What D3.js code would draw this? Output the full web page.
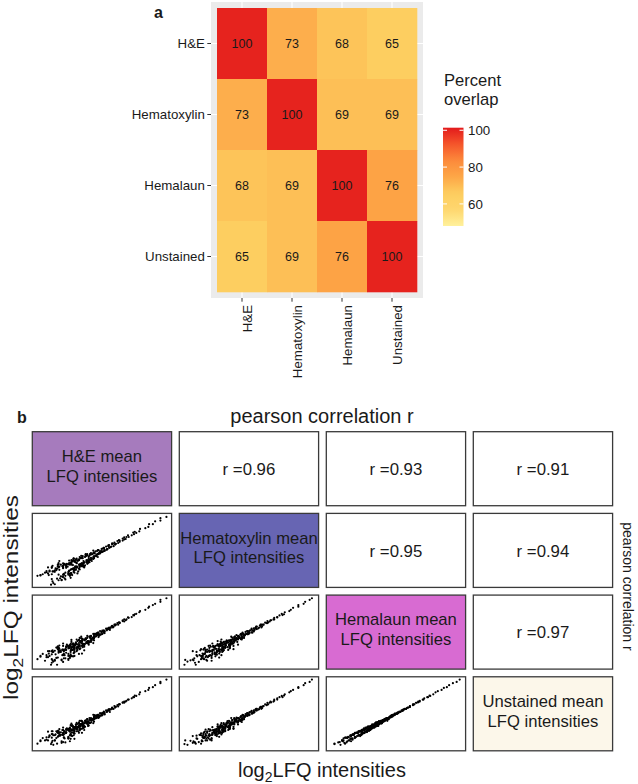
<!DOCTYPE html>
<html>
<head>
<meta charset="utf-8">
<script src="https://cdn.jsdelivr.net/npm/d3@7/dist/d3.min.js"></script>
<style>
  body { margin: 0; background: #fff; }
  text { font-family: "Liberation Sans", Arial, Helvetica, sans-serif; }
</style>
</head>
<body>
<div id="figure"></div>
<script>
// ---- data ----
const stains = ["H&E", "Hematoxylin", "Hemalaun", "Unstained"];

// percent overlap, rows and columns in stains order
const overlap = [
  [100, 73, 68, 65],
  [73, 100, 69, 69],
  [68, 69, 100, 76],
  [65, 69, 76, 100]
];
const fillLimits = [48, 101.4];
const legendTicks = [60, 80, 100];

// pearson r, upper triangle (row, col)
const pearsonR = [
  [null, 0.96, 0.93, 0.91],
  [null, null, 0.95, 0.94],
  [null, null, null, 0.97],
  [null, null, null, null]
];

// mean log2 LFQ intensities per protein (same protein order in every array)
const lfqHE = [
  20.8, 19.2, 20.7, 20.2, 22.0, 20.3, 21.1, 22.1, 20.0, 21.8,
  21.3, 22.2, 20.8, 23.2, 21.7, 22.3, 20.9, 22.2, 21.6, 22.9,
  22.5, 21.6, 23.3, 22.2, 22.9, 21.3, 22.6, 23.2, 22.2, 23.6,
  22.1, 23.0, 21.9, 23.2, 24.2, 22.6, 23.7, 22.9, 22.2, 23.6,
  23.5, 22.6, 23.3, 24.0, 22.9, 22.6, 23.5, 23.8, 23.3, 23.0,
  24.0, 23.3, 23.8, 22.6, 23.7, 24.0, 23.1, 24.7, 23.4, 23.9,
  23.2, 24.1, 24.5, 23.7, 23.5, 24.4, 24.1, 23.2, 24.4, 24.0,
  24.3, 23.6, 24.8, 23.9, 25.1, 24.2, 24.7, 23.8, 24.7, 24.3,
  25.0, 24.1, 24.7, 23.9, 24.9, 25.3, 24.5, 24.9, 24.3, 25.6,
  24.5, 25.3, 24.3, 25.0, 25.5, 24.8, 25.7, 24.7, 25.3, 25.1,
  25.5, 24.7, 25.9, 25.2, 25.8, 24.6, 25.6, 26.0, 25.2, 25.6,
  25.2, 25.8, 26.3, 25.4, 25.9, 25.2, 26.3, 25.7, 26.3, 25.9,
  26.3, 25.8, 26.6, 26.1, 26.6, 25.9, 26.5, 26.9, 26.3, 26.7,
  26.3, 26.7, 27.0, 26.5, 26.4, 27.0, 27.3, 26.8, 27.1, 26.7,
  27.4, 26.9, 27.3, 26.8, 27.5, 27.7, 27.3, 27.1, 27.7, 27.6,
  27.4, 28.0, 27.6, 28.0, 27.6, 28.1, 28.4, 27.9, 28.3, 28.2,
  28.5, 28.2, 28.6, 28.3, 28.9, 28.8, 28.7, 29.1, 28.7, 29.1,
  29.2, 29.0, 29.5, 29.4, 29.7, 29.7, 29.6, 30.1, 30.3, 30.1,
  30.5, 30.3, 30.6, 30.9, 30.8, 31.3, 31.6, 31.5, 31.9, 31.7,
  32.3, 32.4, 33.1, 33.5, 33.6, 34.1, 34.4, 35.1, 35.1, 35.9,
  21.1, 19.2, 20.6, 18.8, 21.4, 20.4, 22.5, 19.8, 21.6, 20.7,
  20.0, 22.0, 21.1, 23.1, 20.7, 21.9, 22.9, 20.2, 22.4, 21.4,
  22.9, 20.7, 22.5, 23.7, 21.6, 22.3, 23.6, 21.5, 23.0, 20.8,
  24.1, 22.3, 23.6, 21.6, 23.2, 24.7, 22.2, 23.7, 21.7, 24.3,
  22.7, 24.4, 22.4, 23.9, 24.4, 23.4, 22.8, 25.0, 23.5, 24.5,
  24.9, 23.0, 24.4, 23.7, 25.4, 23.6, 24.9, 23.3, 24.8, 25.5,
  24.0, 25.5, 24.8, 26.0, 24.6, 25.6, 24.4, 26.2, 25.7, 25.2,
  26.2, 25.4, 26.2, 25.8, 26.8, 26.2, 26.9, 26.2, 27.1, 27.7,
  20.4, 23.1, 21.5, 23.3, 21.7, 23.7, 23.3, 25.0, 23.6, 24.8,
  20.9, 19.5, 22.2, 21.2, 23.4, 21.5, 23.1, 22.3, 24.5, 23.6
];
const lfqHematoxylin = [
  19.6, 21.1, 20.2, 21.6, 19.9, 21.2, 22.4, 20.8, 21.9, 20.4,
  22.4, 21.3, 22.1, 20.5, 22.5, 21.3, 22.1, 23.1, 21.3, 22.0,
  21.8, 23.1, 21.7, 23.5, 21.5, 22.7, 23.0, 21.6, 22.9, 22.5,
  23.4, 22.3, 23.8, 22.5, 22.1, 23.5, 22.8, 23.9, 23.3, 22.0,
  22.8, 23.7, 22.7, 23.4, 23.9, 23.4, 22.7, 23.1, 23.8, 24.2,
  23.0, 24.0, 23.4, 23.8, 22.9, 24.2, 23.8, 23.4, 24.6, 23.2,
  24.2, 23.2, 24.0, 24.5, 23.7, 23.4, 24.8, 24.3, 23.6, 24.2,
  23.8, 24.8, 23.8, 24.4, 23.6, 24.8, 24.2, 24.7, 23.6, 24.9,
  24.3, 24.8, 24.0, 25.1, 24.7, 24.4, 25.4, 24.2, 25.0, 24.7,
  25.4, 24.6, 25.1, 24.4, 24.9, 25.4, 24.4, 25.4, 24.9, 25.7,
  24.8, 25.5, 25.1, 25.9, 24.9, 25.5, 25.8, 25.2, 26.2, 25.4,
  25.9, 25.1, 25.6, 26.1, 25.5, 26.3, 25.7, 26.1, 25.4, 26.3,
  25.9, 26.4, 25.9, 26.4, 26.2, 26.7, 26.0, 26.5, 26.8, 26.3,
  26.8, 26.3, 26.8, 27.1, 26.6, 26.7, 27.2, 26.5, 26.9, 27.2,
  27.0, 27.4, 26.9, 27.4, 27.1, 27.4, 27.7, 27.2, 27.4, 27.8,
  27.8, 27.5, 28.0, 27.7, 28.0, 27.7, 28.1, 28.3, 28.0, 28.4,
  28.2, 28.6, 28.3, 28.7, 28.4, 29.0, 28.9, 28.8, 29.1, 28.9,
  29.0, 29.3, 29.2, 29.7, 29.5, 29.8, 29.9, 29.8, 30.1, 30.3,
  30.2, 30.6, 30.7, 30.7, 31.1, 31.1, 31.4, 31.8, 31.7, 32.0,
  32.1, 32.7, 32.9, 33.2, 33.9, 33.9, 34.6, 34.8, 35.4, 35.7,
  18.9, 21.2, 18.8, 21.0, 20.3, 22.1, 20.1, 21.8, 19.9, 21.4,
  22.2, 20.0, 22.0, 21.1, 23.0, 20.9, 21.7, 23.1, 20.4, 22.8,
  21.3, 23.2, 21.0, 22.4, 23.9, 21.5, 22.9, 23.8, 22.2, 23.5,
  21.6, 23.7, 22.6, 24.2, 21.6, 23.4, 24.1, 22.5, 24.7, 22.8,
  24.0, 22.6, 24.0, 22.5, 23.8, 24.8, 23.3, 23.1, 24.8, 23.7,
  23.5, 24.8, 23.2, 24.8, 24.0, 25.3, 23.3, 24.9, 24.0, 24.5,
  25.3, 24.2, 25.9, 24.7, 26.0, 24.5, 25.7, 25.2, 25.0, 26.4,
  25.4, 26.4, 25.7, 26.5, 25.7, 26.7, 26.4, 27.3, 26.6, 27.2,
  22.3, 21.0, 23.4, 21.4, 23.3, 21.8, 24.4, 23.4, 25.3, 23.7,
  19.2, 21.4, 20.7, 22.9, 21.2, 23.4, 21.5, 23.9, 23.6, 25.3
];
const lfqHemalaun = [
  20.3, 21.2, 19.7, 21.1, 20.5, 22.0, 20.2, 21.6, 21.1, 22.4,
  20.9, 21.7, 22.8, 21.3, 22.6, 20.8, 22.4, 21.7, 23.0, 21.4,
  23.0, 22.2, 21.4, 23.0, 21.9, 23.5, 22.2, 22.8, 23.9, 22.1,
  23.0, 23.7, 22.4, 21.8, 23.4, 23.0, 22.3, 23.6, 22.8, 23.9,
  23.7, 22.9, 23.6, 22.6, 23.3, 23.8, 22.9, 24.0, 22.9, 23.6,
  23.2, 22.9, 24.2, 23.6, 23.2, 23.5, 24.1, 23.9, 22.9, 24.3,
  23.9, 24.3, 23.3, 23.6, 24.5, 24.1, 23.7, 24.4, 23.9, 23.5,
  24.6, 24.2, 24.0, 24.8, 24.4, 23.8, 25.0, 24.1, 24.5, 24.1,
  24.0, 25.1, 24.9, 24.4, 24.2, 24.9, 25.1, 24.4, 25.3, 24.2,
  25.0, 24.8, 25.4, 25.3, 24.7, 25.6, 24.8, 25.2, 24.6, 25.5,
  25.1, 25.7, 24.9, 25.5, 25.2, 25.8, 24.9, 25.6, 25.8, 24.9,
  25.7, 26.0, 25.3, 25.9, 26.3, 25.6, 25.8, 26.2, 26.1, 25.6,
  26.2, 26.0, 26.4, 25.9, 26.7, 26.4, 26.2, 26.1, 26.6, 26.8,
  26.7, 26.9, 26.5, 26.9, 26.9, 26.5, 26.8, 27.2, 26.8, 27.1,
  26.9, 27.2, 27.4, 27.1, 27.6, 27.1, 27.3, 27.6, 27.6, 27.2,
  27.7, 27.8, 27.5, 28.0, 27.8, 28.2, 27.9, 28.2, 28.3, 28.1,
  28.4, 28.3, 28.7, 28.5, 28.7, 28.5, 28.9, 29.0, 28.8, 29.2,
  29.2, 29.2, 29.2, 29.6, 29.7, 29.6, 29.8, 30.1, 30.0, 30.3,
  30.3, 30.5, 30.5, 30.9, 31.0, 31.1, 31.5, 31.6, 31.9, 31.8,
  32.3, 32.6, 32.9, 33.4, 33.7, 34.1, 34.4, 34.9, 35.4, 35.8,
  20.4, 21.4, 19.2, 20.6, 19.2, 21.4, 20.8, 20.2, 22.6, 20.6,
  21.6, 20.3, 22.7, 20.9, 21.8, 22.8, 20.4, 22.6, 21.6, 23.5,
  20.7, 22.6, 23.1, 21.4, 23.5, 22.0, 21.3, 23.1, 24.0, 22.4,
  22.9, 21.6, 23.9, 23.5, 22.4, 22.0, 24.5, 22.9, 24.0, 21.9,
  24.2, 23.7, 22.8, 24.5, 23.1, 24.3, 23.9, 22.8, 23.6, 24.7,
  24.3, 23.4, 25.1, 23.3, 24.8, 24.5, 24.0, 25.4, 23.6, 25.1,
  25.5, 24.5, 24.2, 25.3, 26.2, 24.7, 25.9, 24.6, 26.2, 25.5,
  26.0, 26.4, 25.6, 25.9, 26.6, 25.9, 26.9, 26.9, 26.7, 27.5,
  22.6, 21.4, 21.0, 23.2, 23.2, 22.4, 24.9, 23.7, 23.1, 25.5,
  20.0, 21.9, 19.9, 21.8, 21.3, 23.8, 23.4, 22.6, 25.0, 23.9
];
const lfqUnstained = [
  20.6, 20.7, 20.2, 20.7, 20.1, 21.5, 20.7, 22.1, 21.5, 21.9,
  21.3, 22.1, 22.3, 21.1, 22.1, 21.4, 22.0, 22.2, 22.5, 21.2,
  22.6, 21.8, 21.9, 22.6, 21.6, 23.0, 22.7, 22.3, 23.3, 22.6,
  23.3, 23.2, 22.7, 22.2, 23.0, 22.6, 22.5, 23.2, 22.4, 23.5,
  23.4, 22.7, 23.3, 23.0, 23.6, 23.5, 22.7, 23.6, 23.3, 23.2,
  23.5, 23.2, 23.9, 23.3, 23.1, 23.8, 23.9, 23.6, 23.3, 24.2,
  23.6, 24.1, 23.5, 24.0, 24.3, 23.8, 23.6, 24.5, 24.2, 23.8,
  24.4, 23.9, 24.3, 24.6, 24.1, 24.0, 24.7, 24.0, 24.6, 24.4,
  24.2, 24.8, 24.7, 24.7, 24.2, 25.1, 24.8, 24.6, 25.0, 24.4,
  24.7, 25.1, 25.2, 25.0, 24.6, 25.3, 25.0, 24.9, 24.9, 25.6,
  25.4, 25.5, 25.2, 25.2, 25.1, 25.6, 25.2, 25.8, 25.5, 25.2,
  25.4, 25.8, 25.4, 26.0, 26.0, 25.7, 26.0, 25.9, 26.3, 25.8,
  26.3, 25.9, 26.3, 26.1, 26.5, 26.3, 26.2, 26.3, 26.7, 26.6,
  26.6, 26.8, 26.6, 26.8, 27.0, 26.6, 26.9, 27.1, 26.9, 27.0,
  27.0, 27.1, 27.3, 27.0, 27.5, 27.2, 27.4, 27.5, 27.7, 27.4,
  27.6, 27.8, 27.6, 27.9, 27.9, 28.1, 27.8, 28.2, 28.2, 28.2,
  28.4, 28.4, 28.6, 28.5, 28.6, 28.6, 28.9, 28.9, 28.8, 29.1,
  29.1, 29.3, 29.2, 29.5, 29.7, 29.7, 29.7, 30.1, 30.1, 30.2,
  30.4, 30.4, 30.6, 30.9, 30.9, 31.2, 31.5, 31.5, 31.8, 31.9,
  32.2, 32.7, 33.0, 33.3, 33.8, 34.0, 34.5, 35.0, 35.3, 35.9,
  20.7, 20.5, 19.8, 19.9, 19.9, 21.8, 20.2, 20.7, 21.8, 21.4,
  20.9, 20.5, 22.0, 20.5, 22.3, 22.1, 21.2, 22.9, 21.2, 22.8,
  21.4, 23.0, 22.5, 21.1, 22.9, 21.5, 22.0, 22.6, 23.4, 23.0,
  23.4, 22.2, 23.3, 23.0, 22.0, 22.6, 23.9, 22.4, 23.5, 22.6,
  23.7, 23.2, 22.9, 24.0, 23.5, 24.5, 23.4, 23.3, 24.1, 24.2,
  23.8, 23.6, 24.7, 23.9, 25.0, 24.1, 23.8, 24.9, 24.1, 25.5,
  25.1, 24.3, 24.7, 25.6, 25.6, 25.2, 25.6, 25.0, 26.3, 25.3,
  26.1, 26.0, 25.8, 25.8, 26.4, 26.0, 26.7, 27.1, 26.9, 27.3,
  22.0, 22.0, 21.6, 22.7, 22.6, 23.0, 24.3, 24.2, 23.7, 25.0,
  19.6, 21.3, 20.3, 22.2, 21.8, 23.1, 22.9, 23.1, 24.3, 23.6
];
const lfq = [lfqHE, lfqHematoxylin, lfqHemalaun, lfqUnstained];

// ---- setup ----
const W = 638, H = 784;
const svg = d3
  .select("#figure")
  .append("svg")
  .attr("width", W)
  .attr("height", H);

const dark = "#1a1a1a";

// colour scale for the heatmap (YlOrRd-like ramp)
const fillColors = ["#fff19c", "#fed66e", "#fdcd5f", "#fda747", "#fc8a3b", "#f5552b", "#e31a1c"];
const fillDomain = d3.range(fillColors.length).map(
  (i) => fillLimits[0] + (i / (fillColors.length - 1)) * (fillLimits[1] - fillLimits[0])
);
const fill = d3.scaleLinear().domain(fillDomain).range(fillColors).clamp(true);

// =============== panel a: heatmap ===============
const x = d3.scaleBand().domain(stains).range([217, 417]);
const y = d3.scaleBand().domain(stains).range([8, 292]);

const heat = svg.append("g").attr("class", "heatmap");

// grey ggplot panel
heat
  .append("rect")
  .attr("x", 211)
  .attr("y", 2)
  .attr("width", 212)
  .attr("height", 296)
  .attr("fill", "#ebebeb");

// major grid lines (only the bits in the margin show)
heat
  .selectAll(".vgrid")
  .data(stains)
  .enter()
  .append("line")
  .attr("x1", (d) => x(d) + x.bandwidth() / 2)
  .attr("x2", (d) => x(d) + x.bandwidth() / 2)
  .attr("y1", 2)
  .attr("y2", 298)
  .attr("stroke", "#fff")
  .attr("stroke-width", 1.1);
heat
  .selectAll(".hgrid")
  .data(stains)
  .enter()
  .append("line")
  .attr("y1", (d) => y(d) + y.bandwidth() / 2)
  .attr("y2", (d) => y(d) + y.bandwidth() / 2)
  .attr("x1", 211)
  .attr("x2", 423)
  .attr("stroke", "#fff")
  .attr("stroke-width", 1.1);

const cells = [];
stains.forEach((rowName, i) =>
  stains.forEach((colName, j) => cells.push({ row: rowName, col: colName, value: overlap[i][j] }))
);

heat
  .selectAll(".tile")
  .data(cells)
  .enter()
  .append("rect")
  .attr("class", "tile")
  .attr("x", (d) => x(d.col))
  .attr("y", (d) => y(d.row))
  .attr("width", x.bandwidth() + 0.3)
  .attr("height", y.bandwidth() + 0.3)
  .attr("fill", (d) => fill(d.value));

heat
  .selectAll(".cell-label")
  .data(cells)
  .enter()
  .append("text")
  .attr("x", (d) => x(d.col) + x.bandwidth() / 2)
  .attr("y", (d) => y(d.row) + y.bandwidth() / 2)
  .attr("dy", "0.36em")
  .attr("text-anchor", "middle")
  .attr("fill", dark)
  .style("font-size", "12.5px")
  .text((d) => d.value);

// y axis
heat
  .append("g")
  .attr("transform", "translate(211,0)")
  .call(d3.axisLeft(y).tickSize(3.7).tickPadding(2.4))
  .call((g) => g.select(".domain").remove())
  .call((g) => g.selectAll(".tick line").attr("stroke", "#333").attr("stroke-width", 1))
  .call((g) =>
    g.selectAll(".tick text").attr("fill", dark).style("font-size", "13.3px")
  );

// x axis, labels turned 90 degrees
heat
  .append("g")
  .attr("transform", "translate(0,298)")
  .call(d3.axisBottom(x).tickSize(3.7))
  .call((g) => g.select(".domain").remove())
  .call((g) => g.selectAll(".tick line").attr("stroke", "#333").attr("stroke-width", 1))
  .call((g) =>
    g
      .selectAll(".tick text")
      .attr("transform", "rotate(-90)")
      .attr("text-anchor", "end")
      .attr("x", -7)
      .attr("y", 9.6)
      .attr("dy", 0)
      .attr("fill", dark)
      .style("font-size", "13.3px")
  );

heat
  .append("text")
  .attr("x", 154)
  .attr("y", 18)
  .style("font-size", "16px")
  .style("font-weight", "bold")
  .attr("fill", dark)
  .text("a");

// legend
const legend = svg.append("g").attr("class", "legend");
legend
  .append("text")
  .attr("x", 444)
  .attr("y", 86)
  .attr("fill", dark)
  .style("font-size", "16.6px")
  .selectAll("tspan")
  .data(["Percent", "overlap"])
  .enter()
  .append("tspan")
  .attr("x", 444)
  .attr("dy", (d, i) => (i === 0 ? 0 : 18.5))
  .text((d) => d);

const legendY = d3.scaleLinear().domain(fillLimits).range([226, 127.7]);
const grad = svg
  .append("defs")
  .append("linearGradient")
  .attr("id", "fillGrad")
  .attr("x1", 0)
  .attr("x2", 0)
  .attr("y1", 1)
  .attr("y2", 0);
grad
  .selectAll("stop")
  .data(d3.range(0, 1.0001, 0.05))
  .enter()
  .append("stop")
  .attr("offset", (t) => t)
  .attr("stop-color", (t) => fill(fillLimits[0] + t * (fillLimits[1] - fillLimits[0])));

legend
  .append("rect")
  .attr("x", 443)
  .attr("y", legendY(fillLimits[1]))
  .attr("width", 20.5)
  .attr("height", legendY(fillLimits[0]) - legendY(fillLimits[1]))
  .attr("fill", "url(#fillGrad)");

legendTicks.forEach((v) => {
  [[443, 447], [459.5, 463.5]].forEach(([a, b]) =>
    legend
      .append("line")
      .attr("x1", a)
      .attr("x2", b)
      .attr("y1", legendY(v))
      .attr("y2", legendY(v))
      .attr("stroke", "#fff")
      .attr("stroke-width", 1)
  );
  legend
    .append("text")
    .attr("x", 468)
    .attr("y", legendY(v))
    .attr("dy", "0.36em")
    .attr("fill", dark)
    .style("font-size", "13.3px")
    .text(v);
});

// =============== panel b: pairs plot ===============
const pairs = svg.append("g").attr("class", "pairs");
const col = d3.scaleBand().domain(d3.range(4)).range([32.3, 612.6]).paddingInner(0.0524);
const row = d3.scaleBand().domain(d3.range(4)).range([431.7, 750.8]).paddingInner(0.094);

const diagFill = ["#a67bbd", "#6765b3", "#d86bd2", "#fcf7ea"];

// R style 4% padding around the data range
const ext = d3.extent(lfq.flat());
const pad = (ext[1] - ext[0]) * 0.04;
const lfqDomain = [ext[0] - pad, ext[1] + pad];

for (let i = 0; i < 4; i++) {
  for (let j = 0; j < 4; j++) {
    const x0 = col(j), y0 = row(i);
    const bw = col.bandwidth(), bh = row.bandwidth();
    const cell = pairs.append("g");
    const cx = x0 + bw / 2, cy = y0 + bh / 2;

    cell
      .append("rect")
      .attr("x", x0)
      .attr("y", y0)
      .attr("width", bw)
      .attr("height", bh)
      .attr("fill", i === j ? diagFill[i] : "#fff")
      .attr("stroke", "#3a3a3a")
      .attr("stroke-width", 1.3);

    if (i === j) {
      cell
        .append("text")
        .attr("text-anchor", "middle")
        .attr("fill", dark)
        .style("font-size", "16.6px")
        .selectAll("tspan")
        .data([stains[i] + " mean", "LFQ intensities"])
        .enter()
        .append("tspan")
        .attr("x", cx)
        .attr("y", (d, k) => cy - 6.8 + k * 19.8)
        .text((d) => d);
    } else if (j > i) {
      cell
        .append("text")
        .attr("x", cx)
        .attr("y", cy + 6.4)
        .attr("text-anchor", "middle")
        .attr("fill", dark)
        .style("font-size", "16.8px")
        .text("r =" + pearsonR[i][j].toFixed(2));
    } else {
      const sx = d3.scaleLinear().domain(lfqDomain).range([x0, x0 + bw]);
      const sy = d3.scaleLinear().domain(lfqDomain).range([y0 + bh, y0]);
      const pts = lfq[j].map((v, k) => [v, lfq[i][k]]);
      cell
        .selectAll("circle")
        .data(pts)
        .enter()
        .append("circle")
        .attr("cx", (d) => sx(d[0]))
        .attr("cy", (d) => sy(d[1]))
        .attr("r", 1.1)
        .attr("fill", "#000");
    }
  }
}

pairs
  .append("text")
  .attr("x", 17)
  .attr("y", 423)
  .style("font-size", "16px")
  .style("font-weight", "bold")
  .attr("fill", dark)
  .text("b");

pairs
  .append("text")
  .attr("x", 322)
  .attr("y", 423)
  .attr("text-anchor", "middle")
  .attr("fill", dark)
  .style("font-size", "20px")
  .text("pearson correlation r");

pairs
  .append("text")
  .attr("transform", "translate(623,586.5) rotate(90)")
  .attr("text-anchor", "middle")
  .attr("fill", dark)
  .style("font-size", "14px")
  .text("pearson correlation r");

// log2LFQ intensities titles with subscript 2
function logTitle(sel) {
  sel.append("tspan").text("log");
  sel.append("tspan").attr("dy", 5).style("font-size", "14px").text("2");
  sel.append("tspan").attr("dy", -5).text("LFQ intensities");
}

pairs
  .append("text")
  .attr("x", 322)
  .attr("y", 777)
  .attr("text-anchor", "middle")
  .attr("fill", dark)
  .style("font-size", "20px")
  .call(logTitle);

// the left one is drawn longer in the figure
pairs
  .append("text")
  .attr("transform", "translate(17.5,597.5) rotate(-90)")
  .attr("text-anchor", "middle")
  .attr("textLength", 205)
  .attr("lengthAdjust", "spacingAndGlyphs")
  .attr("fill", dark)
  .style("font-size", "20px")
  .call(logTitle);
</script>
</body>
</html>
